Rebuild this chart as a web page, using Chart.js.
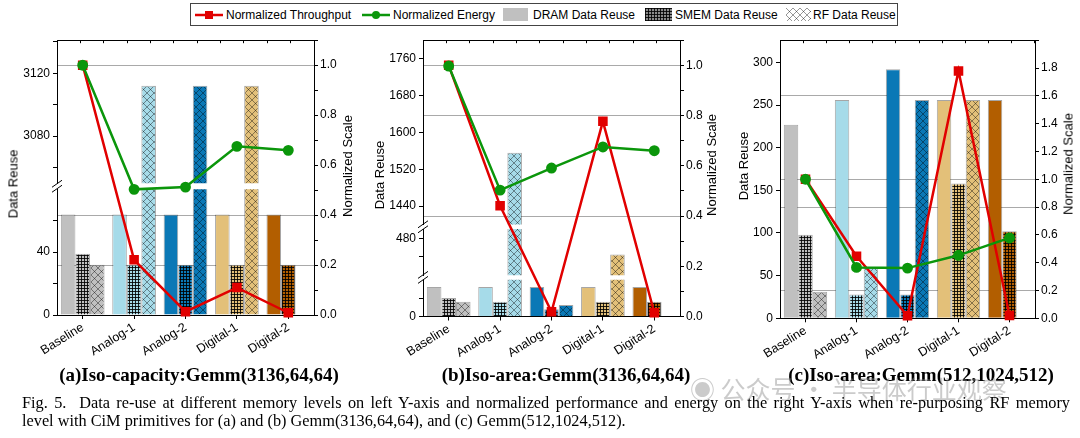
<!DOCTYPE html>
<html>
<head>
<meta charset="utf-8">
<script src="https://cdn.jsdelivr.net/npm/chart.js@4.4.1/dist/chart.umd.min.js"></script>
<style>
  body { margin: 0; width: 1080px; height: 438px; background: #fff; position: relative; overflow: hidden;
         font-family: "Liberation Sans", Arial, sans-serif; color: #000; }
  canvas.chart { position: absolute; top: 30px; }
  #legend { position: absolute; left: 190px; top: 3px; width: 708px; height: 23px; border: 1px solid #444; box-sizing: border-box; font-size: 12px; }
  #legend canvas { position: absolute; top: 4px; }
  #legend span { position: absolute; top: 4px; white-space: nowrap; }
  .ytitle { position: absolute; font-size: 13px; white-space: nowrap; transform: translate(-50%, -50%) rotate(-90deg); }
  .cap { position: absolute; top: 375px; transform: translate(-50%, -50%); white-space: nowrap;
         font: bold 19px "Liberation Serif", "Times New Roman", serif; }
  .fig { position: absolute; left: 22px; width: 1048px; white-space: nowrap; font: 16.3px "Liberation Serif", "Times New Roman", serif; }
  #wm { position: absolute; left: 690px; top: 370px; font: 25px "Noto Sans CJK SC", sans-serif; color: rgba(140,140,140,0.45); white-space: nowrap; }
</style>
</head>
<body>
<div id="legend">
  <canvas id="lgThr" width="30" height="14" style="left:3px"></canvas><span style="left:35px">Normalized Throughput</span>
  <canvas id="lgEn" width="30" height="14" style="left:170px"></canvas><span style="left:202px">Normalized Energy</span>
  <canvas id="lgDram" width="25" height="13" style="left:312px"></canvas><span style="left:342px">DRAM Data Reuse</span>
  <canvas id="lgSmem" width="27" height="13" style="left:454px"></canvas><span style="left:484px">SMEM Data Reuse</span>
  <canvas id="lgRf" width="25" height="13" style="left:595px"></canvas><span style="left:622px">RF Data Reuse</span>
</div>

<canvas class="chart" id="ca" width="360" height="345" style="left:0px"></canvas>
<canvas class="chart" id="cb" width="360" height="345" style="left:360px"></canvas>
<canvas class="chart" id="cc" width="360" height="345" style="left:720px"></canvas>

<div class="ytitle" style="left:13px;top:184px">Data Reuse</div>
<div class="ytitle" style="left:379px;top:175px">Data Reuse</div>
<div class="ytitle" style="left:743px;top:166px">Data Reuse</div>
<div class="ytitle" style="left:347px;top:166px">Normalized Scale</div>
<div class="ytitle" style="left:711px;top:165px">Normalized Scale</div>
<div class="ytitle" style="left:1068px;top:164px">Normalized Scale</div>

<div class="cap" style="left:199px">(a)Iso-capacity:Gemm(3136,64,64)</div>
<div class="cap" style="left:566px">(b)Iso-area:Gemm(3136,64,64)</div>
<div class="cap" style="left:921px">(c)Iso-area:Gemm(512,1024,512)</div>
<div id="wm">&#9673; 公众号 · 半导体行业观察</div>
<div class="fig" style="top:393px;text-align:justify;text-align-last:justify;white-space:normal">Fig. 5.&nbsp; Data re-use at different memory levels on left Y-axis and normalized performance and energy on the right Y-axis when re-purposing RF memory</div>
<div class="fig" style="top:411px">level with CiM primitives for (a) and (b) Gemm(3136,64,64), and (c) Gemm(512,1024,512).</div>

<script>
const categories = ['Baseline', 'Analog-1', 'Analog-2', 'Digital-1', 'Digital-2'];

// (a) Iso-capacity: Gemm(3136,64,64)
const dramA = [64, 64, 64, 64, 64];
const smemA = [39, 32, 32, 32, 32];
const rfA = [32, 3112, 3112, 3112, null];
const throughputA = [1.0, 0.221, 0.013, 0.11, 0.009];
const energyA = [1.0, 0.503, 0.512, 0.675, 0.659];
const leftRangesA = [[0, 80], [3050, 3141]];
const rightRefsA = [0.2, 0.4, 1.0];

// (b) Iso-area: Gemm(3136,64,64)
const dramB = [64, 64, 64, 64, 64];
const smemB = [40, 32, 16, 32, 32];
const rfB = [32, 1556, 25, 445, null];
const throughputB = [1.0, 0.441, 0.019, 0.777, 0.015];
const energyB = [0.997, 0.503, 0.591, 0.675, 0.66];
const leftRangesB = [[0, 80], [400, 500], [1400, 1800]];
const rightRefsB = [0.4, 0.8, 1.0];

// (c) Iso-area: Gemm(512,1024,512)
const dramC = [227, 256, 292, 256, 256];
const smemC = [98, 28, 28, 158, 102];
const rfC = [31, 59, 256, 256, null];
const throughputC = [1.0, 0.446, 0.018, 1.779, 0.02];
const energyC = [1.0, 0.366, 0.361, 0.453, 0.578];
const leftRangesC = [[0, 326]];
const rightRefsC = [0.2, 0.8, 1.0, 1.6];

const catColors = ['#c0c0c0', '#a6dbe9', '#0a78b6', '#e3c079', '#b25e00'];
const RED = '#e10000';
const GREEN = '#0b960b';

Chart.defaults.font.family = '"Liberation Sans", Arial, sans-serif';
Chart.defaults.color = '#000';

function pattern(base, kind) {
  const c = document.createElement('canvas');
  const g = c.getContext('2d');
  if (kind === 'smem') {
    c.width = c.height = 3;
    g.fillStyle = base; g.fillRect(0, 0, 3, 3);
    g.fillStyle = 'rgba(0,0,0,0.85)';
    g.fillRect(0, 0, 3, 1); g.fillRect(0, 0, 1, 3);
  } else {
    c.width = c.height = 7;
    g.fillStyle = base; g.fillRect(0, 0, 7, 7);
    g.strokeStyle = 'rgba(0,0,0,0.45)'; g.lineWidth = 0.9;
    g.beginPath(); g.moveTo(0, 0); g.lineTo(7, 7); g.moveTo(7, 0); g.lineTo(0, 7); g.stroke();
  }
  return g.createPattern(c, 'repeat');
}

// left-axis segments (broken axis): lay them out with a common value scale and gaps
function segScales(chart) {
  return Object.keys(chart.scales).filter(k => /^y\d$/.test(k)).sort().map(k => chart.scales[k]);
}
const axisBreaks = {
  id: 'axisBreaks',
  afterLayout(chart, args, opts) {
    const area = chart.chartArea;
    const segs = segScales(chart);
    const units = segs.reduce((s, sc) => s + sc.options.max - sc.options.min, 0);
    const k = (area.bottom - area.top - opts.gap * (segs.length - 1)) / units;
    let bottom = area.bottom;
    segs.forEach(sc => {
      const h = (sc.options.max - sc.options.min) * k;
      sc.bottom = bottom; sc.top = bottom - h; sc.height = h;
      sc.configure();
      bottom = sc.top - opts.gap;
    });
  },
  afterDraw(chart) {
    const segs = segScales(chart);
    const ctx = chart.ctx;
    ctx.save();
    ctx.strokeStyle = '#000'; ctx.lineWidth = 1;
    for (let i = 1; i < segs.length; i++) {
      const x = segs[i - 1].right;
      const yc = (segs[i - 1].top + segs[i].bottom) / 2;
      [-2.5, 2.5].forEach(d => {
        ctx.beginPath(); ctx.moveTo(x - 5, yc + d + 3.5); ctx.lineTo(x + 5, yc + d - 3.5); ctx.stroke();
      });
    }
    ctx.restore();
  }
};

function makePanel(id, p) {
  const smemFill = catColors.map(c => pattern(c, 'smem'));
  const rfFill = catColors.map(c => pattern(c, 'rf'));
  const series = [['DRAM', p.dram, catColors], ['SMEM', p.smem, smemFill], ['RF', p.rf, rfFill]];
  const datasets = [
    { type: 'line', label: 'Normalized Energy', data: p.energy, yAxisID: 'yr', order: 0, clip: 8,
      borderColor: GREEN, backgroundColor: GREEN, borderWidth: 2.5, pointStyle: 'circle', pointRadius: 4.2 },
    { type: 'line', label: 'Normalized Throughput', data: p.throughput, yAxisID: 'yr', order: 1, clip: 8,
      borderColor: RED, backgroundColor: RED, borderWidth: 2.5, pointStyle: 'rect', pointRadius: 5 }
  ];
  p.ranges.forEach((r, i) => {
    series.forEach(([name, data, fill]) => datasets.push({
      type: 'bar', label: name, data: data, yAxisID: 'y' + i, stack: name, order: 2,
      backgroundColor: fill, borderColor: 'rgba(0,0,0,0.35)', borderWidth: 1,
      categoryPercentage: 0.85, barPercentage: 1
    }));
  });

  const scales = {
    x: {
      type: 'category', offset: true,
      grid: { drawOnChartArea: false, offset: false, tickLength: 4, color: '#000' },
      border: { color: '#000' },
      ticks: { font: { size: 12.5 }, minRotation: 32, maxRotation: 32, padding: 1, autoSkip: false },
      afterFit: s => { s.height = p.bottomH; }
    },
    xt: {
      type: 'linear', axis: 'x', position: 'top', min: -0.5, max: 4.5,
      ticks: { display: false, stepSize: 0.5 },
      grid: { drawOnChartArea: false, tickLength: -3, color: '#000' },
      border: { color: '#000' },
      afterFit: s => { s.height = 0; }
    },
    yr: {
      type: 'linear', axis: 'y', position: 'right', min: 0, max: p.rmax,
      ticks: { stepSize: 0.1, font: { size: 12 }, padding: 2,
               callback: v => (Math.round(v * 10) % 2 === 0 && v < p.rmax - 1e-6) ? v.toFixed(1) : '' },
      grid: { tickLength: 4, tickColor: '#000',
              color: c => (c.tick && p.refs.some(r => Math.abs(r - c.tick.value) < 1e-6)) ? '#a9a9a9' : 'rgba(0,0,0,0)' },
      border: { color: '#000' },
      afterFit: s => { s.width = 30; }
    }
  };
  p.ranges.forEach(([mn, mx], i) => {
    scales['y' + i] = {
      type: 'linear', axis: 'y', position: 'left', stack: 'left', stackWeight: mx - mn,
      min: mn, max: mx,
      ticks: { stepSize: p.lstep, includeBounds: false, font: { size: 12 }, padding: 3,
               callback: v => (v % p.llabel === 0) ? v : '' },
      grid: { drawOnChartArea: false, tickLength: 4, color: '#000' },
      border: { color: '#000' },
      afterBuildTicks: s => { s.ticks = s.ticks.filter(t => t.value === 0 || (t.value > s.min && t.value < s.max)); },
      afterFit: s => { s.width = 40; }
    };
  });

  return new Chart(document.getElementById(id), {
    type: 'bar',
    data: { labels: categories, datasets: datasets },
    options: {
      responsive: false, animation: false, devicePixelRatio: 1,
      layout: { padding: p.pad },
      plugins: { legend: { display: false }, tooltip: { enabled: false }, axisBreaks: { gap: p.gap } },
      scales: scales
    },
    plugins: [axisBreaks]
  });
}

makePanel('ca', { dram: dramA, smem: smemA, rf: rfA, throughput: throughputA, energy: energyA,
  ranges: leftRangesA, refs: rightRefsA, rmax: 1.1, lstep: 20, llabel: 40, gap: 6,
  pad: { left: 17, right: 16, top: 8, bottom: 0 }, bottomH: 60 });
makePanel('cb', { dram: dramB, smem: smemB, rf: rfB, throughput: throughputB, energy: energyB,
  ranges: leftRangesB, refs: rightRefsB, rmax: 1.1, lstep: 40, llabel: 80, gap: 4.5,
  pad: { left: 23, right: 10, top: 5, bottom: 0 }, bottomH: 58.5 });
makePanel('cc', { dram: dramC, smem: smemC, rf: rfC, throughput: throughputC, energy: energyC,
  ranges: leftRangesC, refs: rightRefsC, rmax: 2.0, lstep: 25, llabel: 50, gap: 0,
  pad: { left: 20, right: 15, top: 6.5, bottom: 0 }, bottomH: 56.7 });

// legend swatches
(function () {
  let g = document.getElementById('lgThr').getContext('2d');
  g.strokeStyle = RED; g.lineWidth = 2.5; g.beginPath(); g.moveTo(1, 7); g.lineTo(29, 7); g.stroke();
  g.fillStyle = RED; g.fillRect(11, 3, 8, 8);
  g = document.getElementById('lgEn').getContext('2d');
  g.strokeStyle = GREEN; g.lineWidth = 2.5; g.beginPath(); g.moveTo(1, 7); g.lineTo(29, 7); g.stroke();
  g.fillStyle = GREEN; g.beginPath(); g.arc(15, 7, 4, 0, Math.PI * 2); g.fill();
  g = document.getElementById('lgDram').getContext('2d');
  g.fillStyle = '#c0c0c0'; g.fillRect(0, 0, 25, 13);
  g = document.getElementById('lgSmem').getContext('2d');
  g.fillStyle = pattern('#8a8a8a', 'smem'); g.fillRect(0, 0, 27, 13);
  g = document.getElementById('lgRf').getContext('2d');
  g.fillStyle = pattern('#ffffff', 'rf'); g.fillRect(0, 0, 25, 13);
})();
</script>
</body>
</html>
